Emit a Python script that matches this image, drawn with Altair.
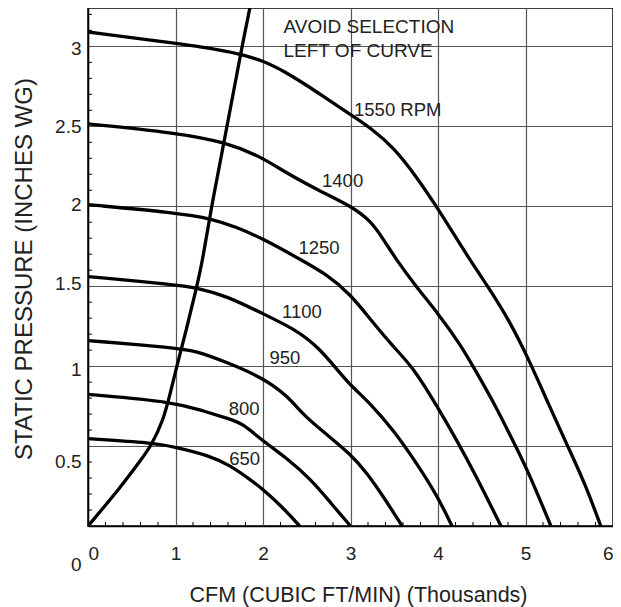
import altair as alt
import pandas as pd

# ---- data ----
curve_names = ["1550", "1400", "1250", "1100", "950", "800", "650", "surge"]

cfm_1550 = [0, 1.0, 1.5, 1.75, 2.0, 2.26, 2.63, 3.01, 3.23, 3.49, 3.76, 3.98, 4.13, 4.37, 4.58, 4.81, 5.04, 5.26, 5.49, 5.68, 5.86]
sp_1550 = [3.09, 3.02, 2.98, 2.95, 2.91, 2.84, 2.71, 2.57, 2.49, 2.37, 2.18, 2.00, 1.87, 1.66, 1.49, 1.29, 1.04, 0.765, 0.49, 0.265, 0.0]

cfm_1400 = [0, 1.0, 1.58, 1.99, 2.26, 2.63, 3.01, 3.23, 3.38, 3.53, 3.76, 4.0, 4.25, 4.43, 4.62, 4.85, 5.04, 5.29]
sp_1400 = [2.515, 2.46, 2.40, 2.306, 2.21, 2.10, 2.00, 1.91, 1.79, 1.66, 1.49, 1.33, 1.14, 0.97, 0.79, 0.54, 0.33, 0.0]

cfm_1250 = [0, 1.0, 1.43, 1.69, 1.99, 2.45, 2.71, 3.0, 3.23, 3.49, 3.72, 4.0, 4.21, 4.40, 4.72]
sp_1250 = [2.01, 1.96, 1.92, 1.87, 1.80, 1.66, 1.58, 1.45, 1.29, 1.12, 0.99, 0.74, 0.54, 0.35, 0.0]

cfm_1100 = [0, 1.0, 1.24, 1.58, 1.99, 2.37, 2.63, 2.86, 3.0, 3.23, 3.49, 3.76, 4.0, 4.16]
sp_1100 = [1.56, 1.51, 1.49, 1.44, 1.33, 1.23, 1.12, 0.97, 0.88, 0.765, 0.60, 0.39, 0.18, 0.0]

cfm_950 = [0, 1.0, 1.24, 1.58, 1.99, 2.29, 2.45, 2.71, 3.0, 3.19, 3.38, 3.59]
sp_950 = [1.16, 1.115, 1.094, 1.025, 0.93, 0.81, 0.70, 0.58, 0.45, 0.33, 0.18, 0.0]

cfm_800 = [0, 1.0, 1.31, 1.62, 1.77, 1.99, 2.26, 2.56, 2.78, 3.0]
sp_800 = [0.823, 0.775, 0.72, 0.67, 0.64, 0.535, 0.43, 0.286, 0.14, 0.0]

cfm_650 = [0, 0.75, 1.0, 1.39, 1.62, 1.84, 1.99, 2.22, 2.42]
sp_650 = [0.546, 0.52, 0.494, 0.44, 0.38, 0.296, 0.234, 0.12, 0.0]

cfm_surge = [0, 0.37, 0.60, 0.72, 0.86, 0.94, 1.01, 1.13, 1.24, 1.31, 1.41, 1.59, 1.76, 1.85]
sp_surge = [0, 0.24, 0.41, 0.50, 0.66, 0.83, 0.99, 1.24, 1.49, 1.66, 2.0, 2.5, 3.0, 3.24]

label_text = ["1550 RPM", "1400", "1250", "1100", "950", "800", "650"]
label_x = [3.54, 2.91, 2.64, 2.445, 2.25, 1.785, 1.79]
label_y = [2.60, 2.16, 1.74, 1.34, 1.05, 0.734, 0.417]

note_text = ["AVOID SELECTION", "LEFT OF CURVE"]
note_x = [2.234, 2.234]
note_y = [3.12, 2.97]

x_ticks = [0, 1, 2, 3, 4, 5, 6]
y_ticks = [0, 0.5, 1, 1.5, 2, 2.5, 3]
x_minor = [round(i * 0.2, 1) for i in range(1, 30) if i % 5 != 0]
y_minor = [round(i * 0.1, 1) for i in range(1, 33) if i % 5 != 0]

X_TITLE = "CFM (CUBIC FT/MIN) (Thousands)"
Y_TITLE = "STATIC PRESSURE (INCHES WG)"

# ---- tables ----
series = [
    (cfm_1550, sp_1550), (cfm_1400, sp_1400), (cfm_1250, sp_1250),
    (cfm_1100, sp_1100), (cfm_950, sp_950), (cfm_800, sp_800),
    (cfm_650, sp_650), (cfm_surge, sp_surge),
]
rows = []
for name, (xs, ys) in zip(curve_names, series):
    for i, (xv, yv) in enumerate(zip(xs, ys)):
        rows.append({"curve": name, "i": i, "cfm": xv, "sp": yv})
curves = pd.DataFrame(rows)
labels = pd.DataFrame({"t": label_text, "x": label_x, "y": label_y})
notes = pd.DataFrame({"t": note_text, "x": note_x, "y": note_y})
xm = pd.DataFrame({"v": x_minor})
ym = pd.DataFrame({"v": y_minor})

W, H = 525, 518
xscale = alt.Scale(domain=[0, 6], nice=False, zero=False)
yscale = alt.Scale(domain=[0, 3.24], nice=False, zero=False)

y_offsets = {
    "condition": [
        {"test": "datum.value == 0", "value": 38},
        {"test": "datum.value == 0.5", "value": 15},
        {"test": "datum.value == 1", "value": 3},
        {"test": "datum.value == 1.5", "value": -3},
        {"test": "datum.value == 2", "value": -2},
        {"test": "datum.value == 3", "value": 2},
    ],
    "value": 0,
}

x_axis = alt.Axis(
    values=x_ticks, grid=True, ticks=False, format="~g",
    labelFontSize=19, labelPadding=18, labelFlush=True, labelColor="#222",
    title=X_TITLE, titleFontSize=21.5, titleFontWeight="normal", titleColor="#222",
    titleX=270, titleY=75.5, titleBaseline="alphabetic", titleAlign="center",
)
y_axis = alt.Axis(
    values=y_ticks, grid=True, ticks=False, format="~g",
    labelFontSize=19, labelPadding=7, labelFlush=False, labelColor="#222",
    labelOffset=y_offsets,
    title=Y_TITLE, titleFontSize=24, titleFontWeight="normal", titleColor="#222",
    titleX=-57, titleY=260.5, titleAngle=270, titleBaseline="alphabetic", titleAlign="center",
)


def X(field):
    return alt.X(field, scale=xscale, axis=x_axis)


def Y(field):
    return alt.Y(field, scale=yscale, axis=y_axis)


lines = alt.Chart(curves).mark_line(
    color="black", strokeWidth=3.3, interpolate="basis", clip=True
).encode(
    x=X("cfm:Q"),
    y=Y("sp:Q"),
    detail="curve:N",
    order="i:Q",
)

x_minor_ticks = alt.Chart(xm).mark_rule(color="black", strokeWidth=1).encode(
    x=X("v:Q"),
    y=alt.value(H), y2=alt.value(H - 4),
)
y_minor_ticks = alt.Chart(ym).mark_rule(color="black", strokeWidth=1).encode(
    y=Y("v:Q"),
    x=alt.value(0), x2=alt.value(4),
)

curve_labels = alt.Chart(labels).mark_text(
    fontSize=18.5, color="#222", align="center", baseline="middle"
).encode(
    x=X("x:Q"),
    y=Y("y:Q"),
    text="t:N",
)
note_labels = alt.Chart(notes).mark_text(
    fontSize=19, color="#222", align="left", baseline="middle"
).encode(
    x=X("x:Q"),
    y=Y("y:Q"),
    text="t:N",
)

chart = alt.layer(
    lines, x_minor_ticks, y_minor_ticks, curve_labels, note_labels
).properties(
    width=W, height=H,
    autosize=alt.AutoSizeParams(type="none"),
    padding={"left": 80, "top": 0, "right": 0, "bottom": 85},
).configure(
    font="Liberation Sans", background="white"
).configure_view(
    stroke="black", strokeWidth=1.5
).configure_axis(
    domainColor="black", domainWidth=1.5,
    gridColor="#555", gridWidth=1.2, gridOpacity=1,
)

chart.save("out.html", embed_options={"renderer": "svg", "actions": False})
